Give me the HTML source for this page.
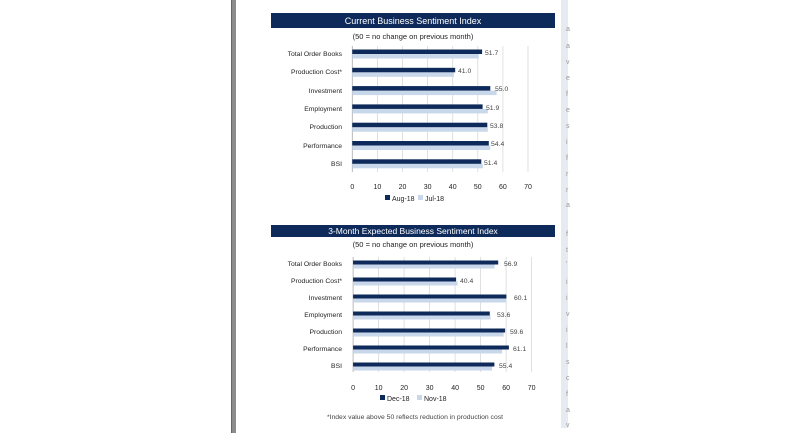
<!DOCTYPE html>
<html><head><meta charset="utf-8"><style>
html,body{margin:0;padding:0;background:#fff;}
svg{display:block;font-family:"Liberation Sans",sans-serif;}
</style></head><body>
<svg width="800" height="433" viewBox="0 0 800 433" xmlns="http://www.w3.org/2000/svg">
<rect x="0" y="0" width="800" height="433" fill="#fff"/>
<rect x="231" y="0" width="5" height="433" fill="#8c8c8c"/>
<rect x="231" y="0" width="1" height="433" fill="#666"/>
<rect x="561" y="0" width="7" height="428" fill="#e6eaf1"/>
<g fill="#999" font-size="7">
<text x="566" y="31">a</text><text x="566" y="48">a</text><text x="566" y="64">v</text><text x="566" y="80">e</text><text x="566" y="96">f</text><text x="566" y="112">e</text><text x="566" y="128">s</text><text x="566" y="144">i</text><text x="566" y="160">f</text><text x="566" y="176">r</text><text x="566" y="192">r</text><text x="566" y="207">a</text>
<text x="566" y="236">f</text><text x="566" y="252">t</text><text x="566" y="266">'</text><text x="566" y="284">i</text><text x="566" y="300">i</text><text x="566" y="316">v</text><text x="566" y="332">i</text><text x="566" y="348">l</text><text x="566" y="364">s</text><text x="566" y="380">c</text><text x="566" y="396">f</text><text x="566" y="412">a</text><text x="566" y="427">v</text>
</g>

<!-- Chart 1 -->
<rect x="271" y="13" width="284" height="15" fill="#0d2a5a"/>
<text x="413" y="24" font-size="9" fill="#fff" text-anchor="middle">Current Business Sentiment Index</text>
<text x="413" y="39" font-size="7.5" fill="#222" text-anchor="middle">(50 = no change on previous month)</text>
<g stroke="#d8d8d8" stroke-width="0.8">
<line x1="377.4" y1="46" x2="377.4" y2="172"/><line x1="402.5" y1="46" x2="402.5" y2="172"/><line x1="427.6" y1="46" x2="427.6" y2="172"/><line x1="452.7" y1="46" x2="452.7" y2="172"/><line x1="477.8" y1="46" x2="477.8" y2="172"/><line x1="502.9" y1="46" x2="502.9" y2="172"/><line x1="528" y1="46" x2="528" y2="172"/>
</g>
<line x1="352.3" y1="46" x2="352.3" y2="172" stroke="#aaa" stroke-width="0.8"/>
<g font-size="6.8" fill="#222" text-anchor="end">
<text x="342" y="56">Total Order Books</text><text x="342" y="74">Production Cost*</text><text x="342" y="93">Investment</text><text x="342" y="111">Employment</text><text x="342" y="129">Production</text><text x="342" y="148">Performance</text><text x="342" y="166">BSI</text>
</g>
<g fill="#c9d7ea">
<rect x="352.3" y="54" width="126.5" height="4.5"/><rect x="352.3" y="72.3" width="101.6" height="4.5"/><rect x="352.3" y="90.6" width="144.3" height="4.5"/><rect x="352.3" y="108.9" width="135.5" height="4.5"/><rect x="352.3" y="127.2" width="135.5" height="4.5"/><rect x="352.3" y="145.5" width="138" height="4.5"/><rect x="352.3" y="163.8" width="130.5" height="4.5"/>
</g>
<g fill="#0d2a5a">
<rect x="352.3" y="49.5" width="129.8" height="4.5"/><rect x="352.3" y="67.8" width="102.9" height="4.5"/><rect x="352.3" y="86.1" width="138" height="4.5"/><rect x="352.3" y="104.4" width="130.3" height="4.5"/><rect x="352.3" y="122.7" width="135" height="4.5"/><rect x="352.3" y="141" width="136.5" height="4.5"/><rect x="352.3" y="159.3" width="129" height="4.5"/>
</g>
<g font-size="6.8" fill="#444">
<text x="485" y="55">51.7</text><text x="458" y="73">41.0</text><text x="495" y="91">55.0</text><text x="486" y="110">51.9</text><text x="490" y="128">53.8</text><text x="491" y="146">54.4</text><text x="484" y="165">51.4</text>
</g>
<g font-size="7" fill="#222" text-anchor="middle">
<text x="352.3" y="189">0</text><text x="377.4" y="189">10</text><text x="402.5" y="189">20</text><text x="427.6" y="189">30</text><text x="452.7" y="189">40</text><text x="477.8" y="189">50</text><text x="502.9" y="189">60</text><text x="528" y="189">70</text>
</g>
<rect x="385" y="195" width="5" height="5" fill="#0d2a5a"/>
<text x="392" y="201" font-size="7" fill="#222">Aug-18</text>
<rect x="418" y="195" width="5" height="5" fill="#c9d7ea"/>
<text x="425" y="201" font-size="7" fill="#222">Jul-18</text>

<!-- Chart 2 -->
<rect x="271" y="225" width="284" height="12" fill="#0d2a5a"/>
<text x="413" y="234" font-size="8.5" fill="#fff" text-anchor="middle">3-Month Expected Business Sentiment Index</text>
<text x="413" y="247" font-size="7.5" fill="#222" text-anchor="middle">(50 = no change on previous month)</text>
<g stroke="#d8d8d8" stroke-width="0.8">
<line x1="378.6" y1="257" x2="378.6" y2="372"/><line x1="404.1" y1="257" x2="404.1" y2="372"/><line x1="429.6" y1="257" x2="429.6" y2="372"/><line x1="455.1" y1="257" x2="455.1" y2="372"/><line x1="480.6" y1="257" x2="480.6" y2="372"/><line x1="506.1" y1="257" x2="506.1" y2="372"/><line x1="531.6" y1="257" x2="531.6" y2="372"/>
</g>
<line x1="353.1" y1="257" x2="353.1" y2="372" stroke="#aaa" stroke-width="0.8"/>
<g font-size="6.8" fill="#222" text-anchor="end">
<text x="342" y="266">Total Order Books</text><text x="342" y="283">Production Cost*</text><text x="342" y="300">Investment</text><text x="342" y="317">Employment</text><text x="342" y="334">Production</text><text x="342" y="351">Performance</text><text x="342" y="368">BSI</text>
</g>
<g fill="#c9d7ea">
<rect x="353.1" y="264.5" width="141.5" height="4"/><rect x="353.1" y="281.5" width="104.5" height="4"/><rect x="353.1" y="298.5" width="153" height="4"/><rect x="353.1" y="315.5" width="137.5" height="4"/><rect x="353.1" y="332.5" width="150.5" height="4"/><rect x="353.1" y="349.5" width="149" height="4"/><rect x="353.1" y="366.5" width="139" height="4"/>
</g>
<g fill="#0d2a5a">
<rect x="353.1" y="260.5" width="145.1" height="4"/><rect x="353.1" y="277.5" width="103" height="4"/><rect x="353.1" y="294.5" width="153.3" height="4"/><rect x="353.1" y="311.5" width="136.7" height="4"/><rect x="353.1" y="328.5" width="152" height="4"/><rect x="353.1" y="345.5" width="155.8" height="4"/><rect x="353.1" y="362.5" width="141.3" height="4"/>
</g>
<g font-size="6.8" fill="#444">
<text x="504" y="266">56.9</text><text x="460" y="283">40.4</text><text x="514" y="300">60.1</text><text x="497" y="317">53.6</text><text x="510" y="334">59.6</text><text x="513" y="351">61.1</text><text x="499" y="368">55.4</text>
</g>
<g font-size="7" fill="#222" text-anchor="middle">
<text x="353.1" y="390">0</text><text x="378.6" y="390">10</text><text x="404.1" y="390">20</text><text x="429.6" y="390">30</text><text x="455.1" y="390">40</text><text x="480.6" y="390">50</text><text x="506.1" y="390">60</text><text x="531.6" y="390">70</text>
</g>
<rect x="380" y="395" width="5" height="5" fill="#0d2a5a"/>
<text x="387" y="401" font-size="7" fill="#222">Dec-18</text>
<rect x="417" y="395" width="5" height="5" fill="#c9d7ea"/>
<text x="424" y="401" font-size="7" fill="#222">Nov-18</text>
<text x="415" y="419" font-size="6.8" fill="#444" text-anchor="middle">*Index value above 50 reflects reduction in production cost</text>
</svg>
</body></html>
